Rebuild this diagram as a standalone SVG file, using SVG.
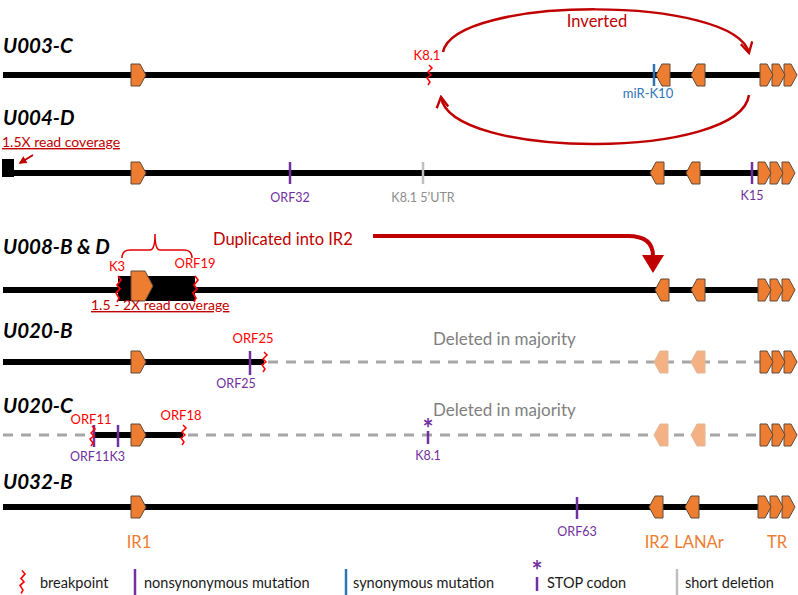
<svg xmlns="http://www.w3.org/2000/svg" width="798" height="595" viewBox="0 0 798 595">
<style>
text{font-family:Lato,"Open Sans","Liberation Sans",sans-serif}
.title{font-size:20.5px;font-weight:bold;font-style:italic;fill:#000}
.dna{stroke:#000;stroke-width:6;fill:none}
.del{stroke:#A6A6A6;stroke-width:3;stroke-dasharray:10 8;fill:none}
.or{fill:#ED7D31;stroke:#5E4A3A;stroke-width:1}
.fade{fill:#F4B183;stroke:#E0B89A;stroke-width:1}
.bp{fill:none;stroke:#FF0000;stroke-width:1.5}
.ns{stroke:#7030A0;stroke-width:2.5}
.syn{stroke:#2E75B6;stroke-width:2.5}
.sd{stroke:#BFBFBF;stroke-width:2.5}
.lr{font-size:13px;fill:#FF0000;text-anchor:middle}
.lp{font-size:12.5px;fill:#7030A0;text-anchor:middle}
.lg{font-size:12.5px;fill:#8C8C8C;text-anchor:middle}
.big{font-size:16.5px;fill:#C00000}
.cov{font-size:14px;fill:#C00000;text-decoration:underline}
.delt{font-size:17px;fill:#7F7F7F}
.reg{font-size:16.5px;fill:#ED7D31;text-anchor:middle}
.leg{font-size:14.5px;fill:#1A1A1A}
.star{font-size:26px;font-weight:bold;fill:#7030A0;text-anchor:middle}
.arc{fill:none;stroke:#C00000;stroke-width:2.5}
</style>
<defs>
<path id="R" d="M0,-11 H9 L15,0 L9,11 H0 Z"/>
<path id="L" d="M0,0 L6,-11 H14 V11 H6 Z"/>
<path id="T" d="M0,-11 H7 L13,0 L7,11 H0 Z"/>
<path id="Z" d="M0,-10 L3,-7 L-1,-3 L2,0 L-2,3 L1,7 L-1,10"/>
<g id="TR"><use href="#T" x="24" class="or"/><use href="#T" x="12" class="or"/><use href="#T" x="0" class="or"/></g>
<marker id="open" viewBox="0 0 12 12" refX="10" refY="6" markerWidth="14" markerHeight="14" markerUnits="userSpaceOnUse" orient="auto">
<path d="M1,1 L10,6 L1,11" fill="none" stroke="#C00000" stroke-width="2"/>
</marker>
<marker id="small" viewBox="0 0 10 10" refX="8" refY="5" markerWidth="8" markerHeight="8" markerUnits="userSpaceOnUse" orient="auto">
<path d="M0,0 L10,5 L0,10 Z" fill="#C00000"/>
</marker>
</defs>

<!-- Row 1 -->
<g id="row-U003-C">
<text class="title" x="3" y="53">U003-C</text>
<line class="dna" x1="3" y1="75" x2="760" y2="75"/>
<use href="#R" x="131" y="75" class="or"/>
<use href="#Z" x="429" y="75" class="bp"/>
<text class="lr" x="427" y="60">K8.1</text>
<line class="syn" x1="654" y1="64" x2="654" y2="86"/>
<text x="648" y="98" style="font-size:13px;fill:#2E75B6;text-anchor:middle">miR-K10</text>
<use href="#L" x="656" y="75" class="or"/>
<use href="#L" x="691" y="75" class="or"/>
<use href="#TR" x="760" y="75"/>
</g>

<!-- Row 2 -->
<g id="row-U004-D">
<text class="title" x="3" y="125">U004-D</text>
<text class="cov" x="2" y="147">1.5X read coverage</text>
<rect x="2" y="159" width="12" height="18" fill="#000"/>
<line class="dna" x1="3" y1="173" x2="758" y2="173"/>
<use href="#R" x="131" y="173" class="or"/>
<line class="ns" x1="290" y1="162" x2="290" y2="184"/>
<text class="lp" x="290" y="202">ORF32</text>
<line class="sd" x1="423" y1="162" x2="423" y2="184"/>
<text class="lg" x="423" y="202">K8.1 5’UTR</text>
<use href="#L" x="650" y="173" class="or"/>
<use href="#L" x="686" y="173" class="or"/>
<line class="ns" x1="752" y1="162" x2="752" y2="184"/>
<text class="lp" x="752" y="200">K15</text>
<use href="#TR" x="758" y="173"/>
</g>

<!-- Row 3 -->
<g id="row-U008-BD">
<text class="title" x="3" y="254">U008-B &amp; D</text>
<path d="M122,258 Q122,250 130,250 H150 Q155,250 155,234 Q155,250 160,250 H184 Q192,250 192,258" fill="none" stroke="#E00000" stroke-width="1.5"/>
<text class="big" x="213" y="245">Duplicated into IR2</text>
<line class="dna" x1="3" y1="290" x2="758" y2="290"/>
<rect x="118" y="276" width="77" height="25" fill="#000"/>
<path d="M131,271 H145 L153,286 L145,301 H131 Z" class="or"/>
<use href="#Z" x="118" y="289" class="bp" transform="translate(118,289) scale(1,1.3) translate(-118,-289)"/>
<use href="#Z" x="195" y="289" class="bp" transform="translate(195,289) scale(1,1.3) translate(-195,-289)"/>
<text class="lr" x="117" y="271">K3</text>
<text class="lr" x="195" y="268">ORF19</text>
<text class="cov" x="91" y="310">1.5 - 2X read coverage</text>
<use href="#L" x="655" y="290" class="or"/>
<use href="#L" x="691" y="290" class="or"/>
<use href="#TR" x="758" y="290"/>
</g>

<!-- Row 4 -->
<g id="row-U020-B">
<text class="title" x="3" y="338">U020-B</text>
<line class="dna" x1="3" y1="362" x2="264" y2="362"/>
<line class="del" x1="268" y1="362" x2="760" y2="362"/>
<use href="#R" x="131" y="362" class="or"/>
<line class="ns" x1="250" y1="351" x2="250" y2="375"/>
<use href="#Z" x="264" y="362" class="bp"/>
<text class="lr" x="253" y="343">ORF25</text>
<text class="lp" x="236" y="388">ORF25</text>
<text class="delt" x="433" y="345">Deleted in majority</text>
<use href="#L" x="654" y="362" class="fade"/>
<use href="#L" x="691" y="362" class="fade"/>
<use href="#TR" x="760" y="362"/>
</g>

<!-- Row 5 -->
<g id="row-U020-C">
<text class="title" x="3" y="413">U020-C</text>
<line class="del" x1="3" y1="435" x2="92" y2="435"/>
<line class="dna" x1="93" y1="435" x2="183" y2="435"/>
<line class="del" x1="188" y1="435" x2="760" y2="435"/>
<line class="ns" x1="94" y1="425" x2="94" y2="447"/>
<line class="ns" x1="118" y1="425" x2="118" y2="447"/>
<use href="#Z" x="92" y="436" class="bp"/>
<use href="#Z" x="183" y="435" class="bp"/>
<use href="#R" x="131" y="435" class="or"/>
<text class="lr" x="91" y="424">ORF11</text>
<text class="lr" x="181" y="420">ORF18</text>
<text class="star" x="428" y="438">*</text>
<line class="ns" x1="428" y1="431" x2="428" y2="444"/>
<text class="lp" x="428" y="460">K8.1</text>
<text class="lp" x="70" y="461" style="text-anchor:start">ORF11K3</text>
<text class="delt" x="433" y="416">Deleted in majority</text>
<use href="#L" x="654" y="435" class="fade"/>
<use href="#L" x="691" y="435" class="fade"/>
<use href="#TR" x="760" y="435"/>
</g>

<!-- Row 6 -->
<g id="row-U032-B">
<text class="title" x="3" y="489">U032-B</text>
<line class="dna" x1="3" y1="507" x2="758" y2="507"/>
<use href="#R" x="131" y="507" class="or"/>
<line class="ns" x1="577" y1="497" x2="577" y2="519"/>
<text class="lp" x="577" y="536">ORF63</text>
<use href="#L" x="649" y="507" class="or"/>
<use href="#L" x="685" y="507" class="or"/>
<use href="#TR" x="758" y="507"/>
<text class="reg" x="139" y="548">IR1</text>
<text class="reg" x="657" y="548">IR2</text>
<text class="reg" x="699" y="548">LANAr</text>
<text class="reg" x="777" y="548">TR</text>
</g>

<!-- Connectors -->
<g id="connectors">
<path class="arc" d="M443,52 C455,-5 735,-5 749,53" marker-end="url(#open)"/>
<text class="big" x="597" y="27" style="text-anchor:middle">Inverted</text>
<path class="arc" d="M749,95 C740,160 450,160 441,97" marker-end="url(#open)"/>
<line x1="33" y1="155" x2="20" y2="163" stroke="#C00000" stroke-width="2" marker-end="url(#small)"/>
<path d="M373,236 H628 Q653,236 653,256" fill="none" stroke="#C00000" stroke-width="4"/>
<path d="M642,255 H664 L653,273 Z" fill="#C00000"/>
</g>

<!-- Legend -->
<g id="legend">
<use href="#Z" x="22" y="582" class="bp" transform="translate(22,582) scale(1,1.15) translate(-22,-582)"/>
<text class="leg" x="40" y="588">breakpoint</text>
<line class="ns" x1="135" y1="569" x2="135" y2="595"/>
<text class="leg" x="144" y="588">nonsynonymous mutation</text>
<line class="syn" x1="346" y1="569" x2="346" y2="595"/>
<text class="leg" x="353" y="588">synonymous mutation</text>
<text class="star" x="537" y="580">*</text>
<line class="ns" x1="537" y1="577" x2="537" y2="591"/>
<text class="leg" x="547" y="588">STOP codon</text>
<line class="sd" x1="677" y1="569" x2="677" y2="595"/>
<text class="leg" x="685" y="588">short deletion</text>
</g>
</svg>
